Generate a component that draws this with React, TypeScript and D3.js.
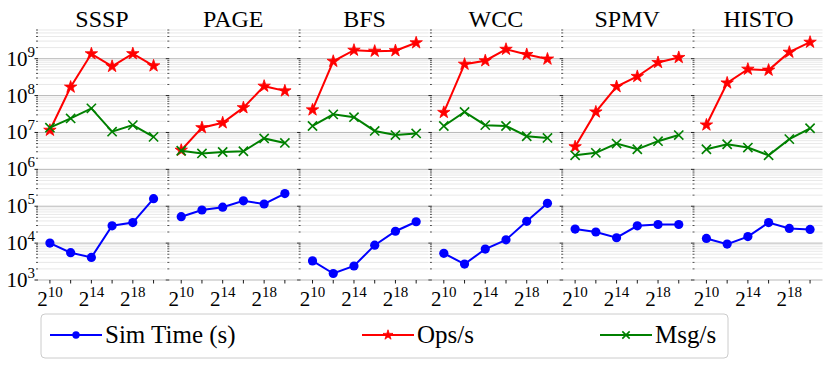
import React from 'react';
import * as d3 from 'd3';

// Benchmarks (one panel each) and graph sizes (log2 of vertex count)
const benchmarks = ['SSSP', 'PAGE', 'BFS', 'WCC', 'SPMV', 'HISTO'];
const graphSizeLog2 = [10, 12, 14, 16, 18, 20];
const xTickLabels = [10, 14, 18];
const yTickExponents = [3, 4, 5, 6, 7, 8, 9];

// values, one row per benchmark
const simTime = [
  [1.0e4, 5.5e3, 4.1e3, 2.95e4, 3.6e4, 1.6e5],
  [5.2e4, 7.9e4, 9.4e4, 1.4e5, 1.15e5, 2.2e5],
  [3.3e3, 1.5e3, 2.4e3, 8.8e3, 2.1e4, 3.8e4],
  [5.3e3, 2.7e3, 6.9e3, 1.23e4, 3.9e4, 1.2e5],
  [2.4e4, 2.0e4, 1.4e4, 2.95e4, 3.2e4, 3.2e4],
  [1.34e4, 9.4e3, 1.5e4, 3.6e4, 2.5e4, 2.35e4],
];
const opsPerSec = [
  [1.15e7, 1.7e8, 1.36e9, 6.2e8, 1.37e9, 6.4e8],
  [3.3e6, 1.35e7, 1.83e7, 4.7e7, 1.8e8, 1.34e8],
  [4.1e7, 8.5e8, 1.7e9, 1.6e9, 1.65e9, 2.7e9],
  [3.5e7, 7.1e8, 8.8e8, 1.8e9, 1.3e9, 9.8e8],
  [4.1e6, 3.6e7, 1.75e8, 3.3e8, 7.9e8, 1.08e9],
  [1.6e7, 2.2e8, 5.2e8, 4.9e8, 1.5e9, 2.8e9],
];
const msgPerSec = [
  [1.35e7, 2.4e7, 4.5e7, 1.05e7, 1.58e7, 7.6e6],
  [3.2e6, 2.7e6, 2.95e6, 3.1e6, 6.9e6, 5.2e6],
  [1.5e7, 3.1e7, 2.6e7, 1.1e7, 8.5e6, 9.4e6],
  [1.5e7, 3.6e7, 1.58e7, 1.5e7, 7.9e6, 7.1e6],
  [2.4e6, 2.8e6, 5.0e6, 3.5e6, 5.8e6, 8.5e6],
  [3.5e6, 4.8e6, 3.9e6, 2.4e6, 6.6e6, 1.3e7],
];

const seriesLabels = ['Sim Time (s)', 'Ops/s', 'Msg/s'];
const seriesData = [simTime, opsPerSec, msgPerSec];
const seriesColors = ['#0000ff', '#ff0000', '#008000'];
const seriesMarkers = ['circle', 'star', 'cross'];

const FONT = 'Liberation Serif';

const W = 830;
const H = 368;
const panelLeft = 38;
const panelStep = 131.3;
const panelW = 128;
const top = 30;
const bottom = 280;

const yScale = d3.scaleLog().domain([1e3, 6e9]).range([bottom, top]);
const xScale = d3.scaleLinear().domain([8.85, 21.2]).range([0, panelW]);

const majorVals = yTickExponents.map(e => Math.pow(10, e));
const minorVals: number[] = [];
for (let e = 3; e <= 9; e++) {
  for (let m = 2; m <= 9; m++) {
    const v = m * Math.pow(10, e);
    if (v <= 6e9) minorVals.push(v);
  }
}

const starPath = (size: number) => d3.symbol(d3.symbolStar, size)() as string;

const Marker = ({ kind, x, y, color, scale = 1 }: { kind: string; x: number; y: number; color: string; scale?: number }) => {
  if (kind === 'circle') return <circle cx={x} cy={y} r={4.6 * scale} fill={color} />;
  if (kind === 'star')
    return (
      <path d={starPath(48 * scale * scale)} transform={`translate(${x},${y})`} fill={color} stroke={color} strokeWidth={0.8} />
    );
  const s = 4.6 * scale;
  return (
    <path d={`M${x - s},${y - s}L${x + s},${y + s}M${x - s},${y + s}L${x + s},${y - s}`} stroke={color} strokeWidth={1.6} fill="none" />
  );
};

const Panel = ({ name, pi }: { name: string; pi: number }) => {
  const line = d3.line<number>()
    .x((_, i) => xScale(graphSizeLog2[i]))
    .y(d => yScale(d));
  return (
    <g transform={`translate(${panelLeft + pi * panelStep},0)`}>
      {/* grid */}
      {minorVals.map(v => (
        <line key={`mg${v}`} x1={0} x2={panelW} y1={yScale(v)} y2={yScale(v)} stroke="#dedede" strokeWidth={0.7} />
      ))}
      {majorVals.map(v => (
        <line key={`Mg${v}`} x1={0} x2={panelW} y1={yScale(v)} y2={yScale(v)} stroke="#b0b0b0" strokeWidth={0.9} />
      ))}
      {/* y ticks */}
      {majorVals.map(v => (
        <line key={`Mt${v}`} x1={-3.5} x2={0} y1={yScale(v)} y2={yScale(v)} stroke="#000" strokeWidth={0.9} />
      ))}
      {minorVals.map(v => (
        <line key={`mt${v}`} x1={-2} x2={0} y1={yScale(v)} y2={yScale(v)} stroke="#000" strokeWidth={0.7} />
      ))}
      {/* x ticks */}
      {graphSizeLog2.map(p => (
        <line key={`xt${p}`} x1={xScale(p)} x2={xScale(p)} y1={bottom} y2={bottom + 3.5} stroke="#000" strokeWidth={0.9} />
      ))}
      {xTickLabels.map(p => (
        <text key={`xl${p}`} x={xScale(p)} y={306} textAnchor="middle" fontFamily={FONT} fontSize={21} fill="#000">
          <tspan>2</tspan>
          <tspan dy={-9} fontSize={15}>{p}</tspan>
        </text>
      ))}
      {pi === 0 &&
        yTickExponents.map(e => (
          <text key={`yl${e}`} x={-3} y={yScale(Math.pow(10, e)) + 7} textAnchor="end" fontFamily={FONT} fontSize={21} fill="#000">
            <tspan>10</tspan>
            <tspan dy={-9} fontSize={15}>{e}</tspan>
          </text>
        ))}
      <text x={panelW / 2} y={27} textAnchor="middle" fontFamily={FONT} fontSize={24} fill="#000">
        {name}
      </text>
      {seriesData.map((sd, si) => (
        <g key={seriesLabels[si]}>
          <path d={line(sd[pi]) as string} fill="none" stroke={seriesColors[si]} strokeWidth={2} />
          {sd[pi].map((v, i) => (
            <Marker key={i} kind={seriesMarkers[si]} x={xScale(graphSizeLog2[i])} y={yScale(v)} color={seriesColors[si]} />
          ))}
        </g>
      ))}
    </g>
  );
};

const legendX = [50, 362, 600];

const App = () => (
  <svg width={W} height={H} viewBox={`0 0 ${W} ${H}`} style={{ position: 'absolute', left: 0, top: 0, background: '#fff' }}>
    {benchmarks.map((name, pi) => (
      <Panel key={name} name={name} pi={pi} />
    ))}
    <g>
      <rect x={41} y={314} width={687} height={44} rx={4} fill="#fff" stroke="#cccccc" strokeWidth={1} />
      {seriesLabels.map((label, si) => {
        const x0 = legendX[si];
        const y0 = 335;
        return (
          <g key={label}>
            <line x1={x0} x2={x0 + 52} y1={y0} y2={y0} stroke={seriesColors[si]} strokeWidth={2} />
            <Marker kind={seriesMarkers[si]} x={x0 + 26} y={y0} color={seriesColors[si]} scale={0.8} />
            <text x={x0 + 55} y={y0 + 8} fontFamily={FONT} fontSize={25} fill="#000">
              {label}
            </text>
          </g>
        );
      })}
    </g>
  </svg>
);

export default App;
